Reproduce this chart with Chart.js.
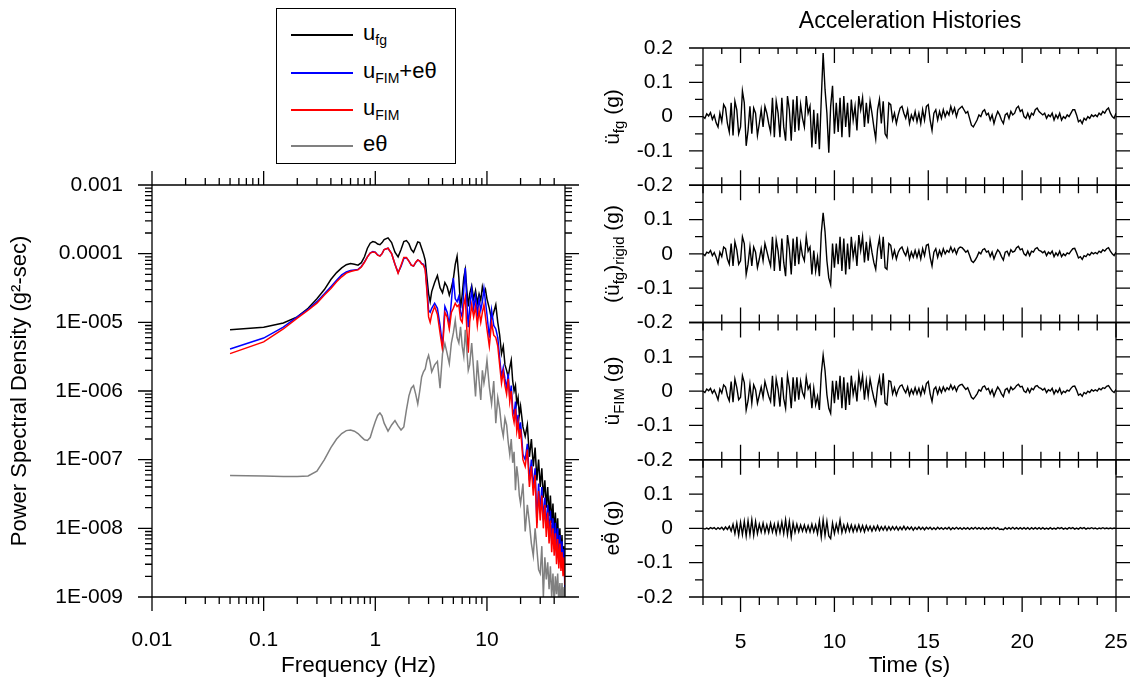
<!DOCTYPE html>
<html lang="en">
  <head>
    <meta charset="UTF-8" />
    <title>PSD and acceleration histories</title>
    <script src="https://cdn.jsdelivr.net/npm/chart.js"></script>
    <style>
      body { margin: 0; background: #fff; font-family: "Liberation Sans", Arial, sans-serif; color: #000; }
      #wrap { position: relative; width: 1139px; height: 682px; overflow: hidden; background: #fff; }
      canvas { position: absolute; top: 0; }
      #legend { position: absolute; left: 276px; top: 8px; width: 178px; height: 154px; border: 1px solid #000; background: #fff; }
      .row { position: absolute; left: 0; width: 178px; height: 26px; }
      .swatch { position: absolute; left: 14px; width: 62px; height: 2px; top: 14px; }
      .lab { position: absolute; left: 86px; top: 0; font-size: 22px; line-height: 26px; white-space: nowrap; }
      sub { font-size: 14px; vertical-align: -5px; line-height: 0; }
      .ytitle { position: absolute; font-size: 21px; white-space: nowrap; transform: translate(-50%, -50%) rotate(-90deg); }
      .ytitle sub { font-size: 15px; }
      .dj { font-family: "DejaVu Sans", sans-serif; font-size: 19px; }
      #accTitle { position: absolute; left: 910px; top: 20px; transform: translate(-50%, -50%); font-size: 23px; white-space: nowrap; }
    </style>
  </head>
  <body>
    <div id="wrap">
      <canvas id="psd" width="600" height="682" style="left:0"></canvas>
      <canvas id="acc0" width="579" height="682" style="left:560px"></canvas>
      <canvas id="acc1" width="579" height="682" style="left:560px"></canvas>
      <canvas id="acc2" width="579" height="682" style="left:560px"></canvas>
      <canvas id="acc3" width="579" height="682" style="left:560px"></canvas>

      <div id="legend">
        <div class="row" style="top:11px"><span class="swatch" style="background:#000"></span><span class="lab">u<sub>fg</sub></span></div>
        <div class="row" style="top:49px"><span class="swatch" style="background:#0000ff"></span><span class="lab">u<sub>FIM</sub>+eθ</span></div>
        <div class="row" style="top:86px"><span class="swatch" style="background:#ff0000"></span><span class="lab">u<sub>FIM</sub></span></div>
        <div class="row" style="top:122px"><span class="swatch" style="background:#808080"></span><span class="lab">eθ</span></div>
      </div>

      <div id="accTitle">Acceleration Histories</div>
      <div class="ytitle" style="left:612px; top:117px">ü<sub>fg</sub> (g)</div>
      <div class="ytitle" style="left:612px; top:254px">(ü<sub>fg</sub>)<sub>rigid</sub> (g)</div>
      <div class="ytitle" style="left:612px; top:391px">ü<sub>FIM</sub> (g)</div>
      <div class="ytitle" style="left:612px; top:528px">e<span class="dj">θ̈</span> (g)</div>
    </div>

    <script>
      // ---------------- DATA : power spectral density ----------------
      const psdFreq = [
        0.05, 0.1, 0.15, 0.2, 0.25, 0.3, 0.35, 0.4, 0.45, 0.5,
        0.55, 0.6, 0.65, 0.7, 0.75, 0.8, 0.85, 0.9, 0.95, 1.0,
        1.05, 1.1, 1.15, 1.2, 1.3, 1.4, 1.5, 1.6, 1.7, 1.8,
        1.9, 2.0, 2.1, 2.2, 2.3, 2.4, 2.5, 2.6, 2.7, 2.8,
        2.9, 3.0, 3.1, 3.2, 3.4, 3.6, 3.8, 4.0, 4.2, 4.4,
        4.6, 4.8, 5.0, 5.2, 5.4, 5.6, 5.8, 6.0, 6.2, 6.4,
        6.6, 6.8, 7.0, 7.3, 7.6, 7.9, 8.2, 8.5, 8.8, 9.1,
        9.4, 9.7, 10, 10.5, 11, 11.5, 12, 12.5, 13, 13.5,
        14, 14.5, 15, 15.5, 16, 16.5, 17, 17.5, 18, 18.5,
        19, 19.5, 20, 21, 22, 23, 24, 25, 26, 27,
        28, 29, 30, 31, 32, 33, 34, 35, 36, 37,
        38, 39, 40, 41, 42, 43, 44, 45, 46, 47,
        48, 49, 50
      ];
      const psdUfg = [
        7.8e-6, 8.5e-6, 9.8e-6, 1.2e-5, 1.6e-5, 2.2e-5, 3.0e-5, 4.2e-5, 5.3e-5, 6.2e-5,
        6.9e-5, 7.2e-5, 7.0e-5, 6.8e-5, 7.4e-5, 9.0e-5, 1.2e-4, 1.42e-4, 1.5e-4, 1.47e-4,
        1.38e-4, 1.35e-4, 1.45e-4, 1.6e-4, 1.7e-4, 1.45e-4, 1.05e-4, 9.0e-5, 1.15e-4, 1.5e-4,
        1.55e-4, 1.4e-4, 1.15e-4, 1.05e-4, 1.25e-4, 1.48e-4, 1.45e-4, 1.2e-4, 1.0e-4, 8.0e-5,
        4.5e-5, 2.6e-5, 2.0e-5, 2.8e-5, 3.8e-5, 4.8e-5, 3.2e-5, 2.7e-5, 3.8e-5, 3.3e-5,
        2.5e-5, 3.2e-5, 4.3e-5, 7.0e-5, 9.2e-5, 4.5e-5, 1.6e-5, 2.5e-5, 4.5e-5, 5.9e-5,
        3.0e-5, 1.7e-5, 2.6e-5, 3.4e-5, 2.2e-5, 2.9e-5, 1.9e-5, 2.6e-5, 2.1e-5, 3.3e-5,
        2.6e-5, 3.0e-5, 2.2e-5, 1.6e-5, 1.1e-5, 1.4e-5, 1.8e-5, 1.0e-5, 6.5e-6, 3.5e-6,
        4.5e-6, 2.4e-6, 2.0e-6, 1.6e-6, 2.2e-6, 2.8e-6, 1.4e-6, 1.0e-6, 1.2e-6, 6.5e-7,
        8.0e-7, 4.5e-7, 6.0e-7, 3.0e-7, 2.2e-7, 3.2e-7, 1.1e-7, 2.0e-7, 8.0e-8, 1.5e-7,
        5.0e-8, 1.0e-7, 4.0e-8, 7.5e-8, 2.8e-8, 5.0e-8, 2.0e-8, 4.0e-8, 1.5e-8, 3.0e-8,
        1.2e-8, 2.3e-8, 8.5e-9, 1.7e-8, 7.0e-9, 1.4e-8, 5.0e-9, 1.0e-8, 4.0e-9, 8.0e-9,
        3.0e-9, 5.5e-9, 2.0e-9
      ];
      const psdUfimTheta = [
        4.1e-6, 5.9e-6, 8.5e-6, 1.2e-5, 1.55e-5, 2.0e-5, 2.6e-5, 3.3e-5, 4.1e-5, 4.9e-5,
        5.4e-5, 5.7e-5, 5.8e-5, 5.9e-5, 6.5e-5, 7.6e-5, 9.0e-5, 1.02e-4, 1.07e-4, 1.05e-4,
        9.6e-5, 9.3e-5, 1.0e-4, 1.15e-4, 1.2e-4, 1.0e-4, 7.0e-5, 5.3e-5, 6.5e-5, 8.5e-5,
        8.7e-5, 7.8e-5, 6.8e-5, 6.6e-5, 7.4e-5, 8.1e-5, 7.8e-5, 7.2e-5, 7.0e-5, 6.0e-5,
        3.2e-5, 1.5e-5, 1.4e-5, 1.6e-5, 1.9e-5, 1.6e-5, 9.0e-6, 4.5e-6, 1.7e-5, 1.4e-5,
        9.0e-6, 2.0e-5, 4.4e-5, 2.2e-5, 2.0e-5, 2.4e-5, 1.4e-5, 1.2e-5, 3.0e-5, 6.2e-5,
        2.0e-5, 8.5e-6, 1.6e-5, 3.0e-5, 1.6e-5, 2.4e-5, 1.3e-5, 2.2e-5, 1.5e-5, 2.0e-5,
        3.1e-5, 2.0e-5, 1.3e-5, 6.0e-6, 1.5e-5, 9.0e-6, 8.0e-6, 6.0e-6, 3.0e-6, 1.6e-6,
        2.2e-6, 1.5e-6, 1.1e-6, 1.8e-6, 8.0e-7, 1.2e-6, 5.5e-7, 4.5e-7, 7.0e-7, 3.2e-7,
        4.5e-7, 2.5e-7, 3.5e-7, 1.2e-7, 1.0e-7, 1.7e-7, 5.0e-8, 1.0e-7, 4.0e-8, 7.5e-8,
        1.2e-8, 4.5e-8, 1.8e-8, 4.0e-8, 1.3e-8, 2.8e-8, 1.0e-8, 2.2e-8, 8.0e-9, 1.8e-8,
        6.5e-9, 1.4e-8, 5.0e-9, 1.2e-8, 4.0e-9, 1.0e-8, 3.5e-9, 8.0e-9, 3.0e-9, 6.5e-9,
        2.5e-9, 5.0e-9, 1.0e-9
      ];
      const psdUfim = [
        3.5e-6, 5.2e-6, 8.0e-6, 1.15e-5, 1.5e-5, 1.9e-5, 2.5e-5, 3.1e-5, 3.9e-5, 4.6e-5,
        5.2e-5, 5.5e-5, 5.7e-5, 5.8e-5, 6.4e-5, 7.5e-5, 9.0e-5, 1.02e-4, 1.06e-4, 1.04e-4,
        9.5e-5, 9.2e-5, 1.0e-4, 1.15e-4, 1.2e-4, 1.0e-4, 7.0e-5, 5.2e-5, 6.8e-5, 8.8e-5,
        8.8e-5, 7.8e-5, 6.8e-5, 6.6e-5, 7.5e-5, 8.1e-5, 7.8e-5, 7.1e-5, 6.8e-5, 5.8e-5,
        2.8e-5, 1.2e-5, 1.0e-5, 1.3e-5, 1.7e-5, 1.3e-5, 7.0e-6, 4.0e-6, 1.4e-5, 1.2e-5,
        8.0e-6, 1.4e-5, 1.6e-5, 1.9e-5, 1.7e-5, 1.8e-5, 1.1e-5, 1.0e-5, 1.8e-5, 2.3e-5,
        8.0e-6, 3.6e-6, 1.0e-5, 1.8e-5, 1.2e-5, 1.7e-5, 9.0e-6, 1.5e-5, 1.0e-5, 1.4e-5,
        1.8e-5, 1.2e-5, 8.0e-6, 4.5e-6, 1.0e-5, 6.5e-6, 6.0e-6, 4.5e-6, 2.4e-6, 1.3e-6,
        1.9e-6, 1.2e-6, 9.0e-7, 1.5e-6, 7.0e-7, 1.0e-6, 4.5e-7, 3.5e-7, 5.5e-7, 2.6e-7,
        3.5e-7, 2.0e-7, 2.8e-7, 1.0e-7, 8.0e-8, 1.4e-7, 4.0e-8, 8.0e-8, 3.0e-8, 6.0e-8,
        1.0e-8, 3.5e-8, 1.3e-8, 3.0e-8, 1.0e-8, 2.2e-8, 7.5e-9, 1.7e-8, 6.0e-9, 1.3e-8,
        4.5e-9, 1.0e-8, 4.0e-9, 8.5e-9, 3.0e-9, 7.0e-9, 2.6e-9, 6.0e-9, 2.4e-9, 4.5e-9,
        2.0e-9, 3.8e-9, 1.5e-9
      ];
      const psdTheta = [
        5.9e-8, 5.8e-8, 5.7e-8, 5.7e-8, 5.8e-8, 6.8e-8, 1.0e-7, 1.5e-7, 2.0e-7, 2.4e-7,
        2.65e-7, 2.7e-7, 2.6e-7, 2.4e-7, 2.15e-7, 1.95e-7, 1.9e-7, 2.1e-7, 2.8e-7, 3.6e-7,
        4.4e-7, 4.8e-7, 4.3e-7, 3.4e-7, 2.6e-7, 3.2e-7, 3.7e-7, 3.1e-7, 2.7e-7, 3.0e-7,
        5.3e-7, 8.5e-7, 1.1e-6, 1.2e-6, 9.0e-7, 6.5e-7, 1.0e-6, 1.6e-6, 1.9e-6, 2.1e-6,
        2.8e-6, 3.3e-6, 2.6e-6, 1.9e-6, 2.4e-6, 2.7e-6, 1.1e-6, 3.5e-6, 4.9e-6, 3.5e-6,
        2.5e-6, 5.0e-6, 7.0e-6, 1.07e-5, 6.0e-6, 5.0e-6, 8.6e-6, 4.5e-6, 3.2e-6, 7.8e-6,
        4.0e-6, 2.0e-6, 2.4e-6, 5.0e-6, 2.0e-6, 8.3e-7, 2.8e-6, 1.4e-6, 7.4e-7, 2.0e-6,
        1.3e-6, 1.8e-6, 2.8e-6, 1.15e-6, 6.5e-7, 1.4e-6, 3.4e-7, 8.0e-7, 5.5e-7, 3.0e-7,
        2.2e-7, 4.0e-7, 3.2e-7, 1.8e-7, 1.2e-7, 2.0e-7, 9.0e-8, 1.3e-7, 3.6e-8, 8.0e-8,
        5.5e-8, 3.0e-8, 2.3e-8, 4.5e-8, 9.0e-9, 2.2e-8, 1.2e-8, 6.0e-9, 4.0e-9, 1.0e-8,
        5.0e-9, 2.5e-9, 2.2e-9, 5.5e-9, 1.0e-9, 3.8e-9, 1.8e-9, 3.2e-9, 1.3e-9, 2.8e-9,
        1.0e-9, 2.2e-9, 8.0e-10, 2.0e-9, 1.1e-9, 2.2e-9, 8.0e-10, 1.6e-9, 7.0e-10, 1.6e-9,
        8.0e-10, 1.4e-9, 7.0e-10
      ];
      const psdXTicks = [0.01, 0.1, 1, 10];
      const psdXLabels = ['0.01', '0.1', '1', '10'];
      const psdYTicks = [1e-9, 1e-8, 1e-7, 1e-6, 1e-5, 1e-4, 1e-3];
      const psdYLabels = ['1E-009', '1E-008', '1E-007', '1E-006', '1E-005', '0.0001', '0.001'];

      // ---------------- DATA : acceleration histories (g), one row per second ----------------
      const tStart = 3;
      const tStep = 0.1;
      const accUfg = [
        0.000, -0.005, 0.008, 0.002, 0.012, -0.008, 0.004, -0.018, -0.030, 0.010,
        -0.015, 0.035, 0.025, -0.020, -0.045, 0.040, -0.055, 0.045, 0.020, -0.050,
        -0.030, 0.075, 0.040, -0.085, -0.040, 0.030, -0.050, 0.025, 0.010, -0.055,
        -0.020, 0.020, -0.030, 0.030, 0.010, -0.020, -0.045, 0.055, -0.060, 0.045,
        0.010, -0.060, 0.055, -0.030, -0.070, 0.060, 0.020, -0.070, 0.050, -0.045,
        0.060, -0.040, 0.035, -0.005, -0.030, 0.060, 0.010, 0.030, -0.090, 0.020,
        -0.080, 0.010, -0.095, 0.050, 0.185, 0.080, 0.010, -0.105, 0.030, 0.090,
        -0.050, 0.040, -0.045, 0.055, -0.060, 0.060, -0.030, 0.040, -0.060, 0.050,
        -0.010, 0.030, -0.040, 0.060, 0.020, 0.055, -0.030, 0.040, -0.020, 0.045,
        0.010, -0.030, -0.065, 0.020, 0.050, -0.020, 0.045, -0.050, -0.060, 0.040,
        0.035, -0.010, 0.010, -0.020, 0.005, 0.025, 0.030, 0.010, -0.005, 0.020,
        -0.020, 0.005, -0.010, 0.015, -0.015, 0.010, -0.020, 0.020, -0.010, 0.030,
        0.035, -0.010, -0.040, 0.010, 0.020, -0.010, 0.015, -0.005, 0.020, 0.000,
        0.015, 0.005, 0.030, 0.010, 0.025, 0.000, 0.020, 0.025, 0.030, 0.020,
        0.010, 0.015, -0.005, -0.025, -0.030, -0.020, -0.010, 0.005, 0.000, 0.015,
        0.020, 0.005, 0.010, -0.010, 0.005, -0.020, 0.000, 0.015, 0.005, -0.010,
        -0.020, 0.005, 0.010, -0.005, 0.015, 0.005, 0.010, 0.025, 0.030, 0.015,
        0.020, 0.000, -0.005, 0.010, -0.005, 0.010, 0.005, 0.020, 0.025, 0.015,
        0.010, 0.005, 0.010, -0.005, 0.005, 0.000, 0.010, -0.010, 0.005, -0.005,
        0.010, -0.010, 0.000, -0.005, 0.005, 0.000, 0.010, 0.020, 0.020, 0.005,
        -0.015, -0.010, -0.020, -0.005, -0.010, 0.000, -0.005, 0.005, 0.000, 0.005,
        0.000, 0.010, 0.005, 0.015, 0.010, 0.020, 0.025, 0.010, 0.000, -0.005,
        0.010
      ];
      const accRigid = [
        0.000, -0.005, 0.005, 0.002, 0.010, -0.005, 0.004, -0.010, -0.028, 0.005,
        -0.008, 0.020, 0.015, -0.015, -0.030, 0.030, -0.035, 0.035, 0.012, -0.030,
        -0.020, 0.050, 0.030, -0.060, -0.030, 0.020, -0.035, 0.020, 0.005, -0.040,
        -0.015, 0.015, -0.020, 0.030, 0.008, -0.015, -0.035, 0.050, -0.050, 0.040,
        0.008, -0.050, 0.045, -0.025, -0.065, 0.055, 0.015, -0.060, 0.045, -0.035,
        0.050, -0.030, 0.030, -0.005, -0.020, 0.050, 0.008, 0.020, -0.060, 0.010,
        -0.050, -0.010, -0.065, 0.060, 0.120, 0.065, -0.020, -0.070, -0.090, 0.030,
        -0.040, 0.030, -0.030, 0.050, -0.050, 0.045, -0.060, 0.030, -0.045, 0.050,
        -0.010, 0.025, -0.035, 0.055, 0.010, 0.050, -0.025, 0.035, -0.020, 0.040,
        0.005, -0.025, -0.045, 0.015, 0.045, -0.015, 0.050, -0.040, -0.045, 0.030,
        0.025, -0.010, 0.010, -0.015, 0.005, 0.015, 0.020, 0.005, -0.005, 0.015,
        -0.015, 0.005, -0.010, 0.010, -0.010, 0.010, -0.015, 0.015, -0.005, 0.025,
        0.028, -0.010, -0.035, 0.005, 0.015, -0.010, 0.010, -0.005, 0.015, 0.000,
        0.010, 0.005, 0.020, 0.005, 0.015, 0.000, 0.015, 0.020, 0.018, 0.012,
        0.005, 0.010, -0.005, -0.020, -0.025, -0.018, -0.008, 0.005, 0.000, 0.012,
        0.015, 0.005, 0.008, -0.008, 0.005, -0.015, 0.000, 0.012, 0.005, -0.008,
        -0.018, 0.005, 0.008, -0.005, 0.012, 0.005, 0.008, 0.018, 0.022, 0.012,
        0.015, 0.000, -0.005, 0.008, -0.005, 0.008, 0.005, 0.015, 0.018, 0.010,
        0.008, 0.003, 0.008, -0.005, 0.005, 0.000, 0.008, -0.008, 0.003, -0.005,
        0.008, -0.008, 0.000, -0.005, 0.003, 0.000, 0.008, 0.015, 0.016, 0.003,
        -0.012, -0.008, -0.016, -0.005, -0.008, 0.000, -0.004, 0.004, 0.000, 0.004,
        0.000, 0.008, 0.004, 0.012, 0.008, 0.015, 0.018, 0.008, 0.000, -0.005,
        0.005
      ];
      const accFim = [
        0.000, -0.004, 0.006, 0.001, 0.008, -0.006, 0.003, -0.010, -0.025, 0.006,
        -0.006, 0.018, 0.012, -0.014, -0.028, 0.028, -0.032, 0.035, 0.010, -0.025,
        -0.018, 0.045, 0.025, -0.055, -0.028, 0.020, -0.035, 0.018, 0.004, -0.035,
        -0.012, 0.012, -0.018, 0.028, 0.006, -0.015, -0.030, 0.045, -0.045, 0.035,
        0.006, -0.045, 0.040, -0.022, -0.050, 0.045, 0.012, -0.050, 0.040, -0.030,
        0.040, -0.025, 0.028, -0.004, -0.018, 0.040, 0.006, 0.018, -0.050, 0.008,
        -0.040, -0.015, -0.055, 0.050, 0.105, 0.060, -0.010, -0.050, -0.065, 0.030,
        -0.035, 0.030, -0.025, 0.045, -0.050, 0.040, -0.055, 0.025, -0.040, 0.045,
        -0.010, 0.020, -0.030, 0.048, 0.010, 0.045, -0.025, 0.030, -0.015, 0.035,
        0.005, -0.020, -0.040, 0.012, 0.040, -0.012, 0.052, -0.035, -0.040, 0.030,
        0.028, -0.008, 0.010, -0.012, 0.005, 0.015, 0.018, 0.005, -0.005, 0.012,
        -0.012, 0.005, -0.008, 0.010, -0.008, 0.008, -0.012, 0.012, -0.005, 0.022,
        0.028, -0.008, -0.030, 0.005, 0.012, -0.008, 0.010, -0.004, 0.012, 0.000,
        0.010, 0.004, 0.018, 0.005, 0.014, 0.000, 0.014, 0.018, 0.020, 0.012,
        0.005, 0.010, -0.004, -0.018, -0.023, -0.016, -0.008, 0.004, 0.000, 0.012,
        0.015, 0.004, 0.008, -0.008, 0.004, -0.015, 0.000, 0.012, 0.004, -0.008,
        -0.016, 0.004, 0.008, -0.004, 0.012, 0.004, 0.008, 0.016, 0.020, 0.012,
        0.014, 0.000, -0.004, 0.008, -0.004, 0.008, 0.004, 0.014, 0.016, 0.010,
        0.008, 0.003, 0.008, -0.004, 0.004, 0.000, 0.008, -0.008, 0.003, -0.004,
        0.008, -0.008, 0.000, -0.004, 0.003, 0.000, 0.008, 0.014, 0.015, 0.003,
        -0.012, -0.008, -0.015, -0.004, -0.008, 0.000, -0.004, 0.004, 0.000, 0.004,
        0.000, 0.008, 0.004, 0.010, 0.008, 0.014, 0.016, 0.008, 0.000, -0.004,
        0.005
      ];
      const accTheta = [
        0.000, -0.002, 0.001, -0.002, 0.002, -0.001, 0.002, -0.003, 0.002, -0.002,
        0.003, -0.004, 0.004, -0.003, 0.006, -0.008, 0.012, -0.015, 0.015, -0.020,
        0.018, -0.018, 0.020, -0.022, 0.022, -0.018, 0.025, -0.020, 0.020, -0.015,
        0.012, -0.010, 0.015, -0.012, 0.010, -0.012, 0.015, -0.010, 0.012, -0.015,
        0.015, -0.012, 0.018, -0.015, 0.025, -0.018, 0.020, -0.025, 0.015, -0.012,
        0.012, -0.010, 0.010, -0.008, 0.010, -0.010, 0.008, -0.010, 0.012, -0.010,
        0.010, -0.015, 0.022, -0.025, 0.025, -0.020, 0.020, -0.022, -0.030, 0.015,
        -0.015, 0.012, -0.010, 0.025, -0.012, 0.010, -0.010, 0.012, -0.008, 0.010,
        -0.010, 0.008, -0.008, 0.010, -0.008, 0.008, -0.010, 0.008, -0.006, 0.006,
        -0.008, 0.006, -0.006, 0.008, -0.006, 0.005, -0.005, 0.006, -0.006, 0.005,
        -0.005, 0.005, -0.004, 0.005, -0.005, 0.004, -0.004, 0.006, -0.004, 0.004,
        -0.003, 0.004, -0.005, 0.003, -0.003, 0.004, -0.003, 0.003, -0.004, 0.003,
        -0.002, 0.003, -0.003, 0.002, -0.003, 0.003, -0.002, 0.002, -0.003, 0.002,
        -0.002, 0.003, -0.004, 0.002, -0.002, 0.003, -0.002, 0.002, -0.003, 0.002,
        -0.002, 0.002, -0.003, 0.002, -0.002, 0.003, -0.002, 0.002, -0.002, 0.002,
        -0.003, 0.002, -0.002, 0.002, -0.002, 0.003, -0.002, 0.002, -0.003, -0.002,
        -0.004, 0.002, -0.002, 0.002, -0.002, 0.003, -0.002, 0.002, -0.002, 0.002,
        -0.002, 0.002, -0.002, 0.002, -0.003, 0.002, -0.002, 0.002, -0.002, 0.002,
        -0.002, 0.002, -0.002, 0.001, -0.002, 0.002, -0.002, 0.001, -0.002, 0.002,
        -0.001, 0.002, -0.002, 0.001, -0.002, 0.002, -0.001, 0.002, -0.002, 0.001,
        -0.002, 0.002, -0.001, 0.002, -0.002, 0.001, -0.001, 0.002, -0.001, 0.001,
        -0.002, 0.001, -0.001, 0.002, -0.001, 0.001, -0.001, 0.001, -0.001, 0.001,
        0.000
      ];
      const timeTicks = [5, 10, 15, 20, 25];
      const accTicks = [-0.2, -0.1, 0, 0.1, 0.2];
      const accMinorTicks = [-0.15, -0.05, 0.05, 0.15];

      // ---------------- SETUP ----------------
      Chart.defaults.font.family = '"Liberation Sans", Arial, sans-serif';
      Chart.defaults.font.size = 21;
      Chart.defaults.color = '#000';

      // box + tick marks (outward / crossing) drawn on the scales
      function framePlugin(marks) {
        return {
          id: 'frame',
          afterDatasetsDraw(chart) {
            const ctx = chart.ctx;
            const a = chart.chartArea;
            ctx.save();
            ctx.strokeStyle = '#000';
            ctx.lineWidth = 1.3;
            ctx.beginPath();
            ctx.rect(a.left, a.top, a.right - a.left, a.bottom - a.top);
            marks.forEach(m => {
              const vertical = m.side === 'left' || m.side === 'right';
              const sc = chart.scales[vertical ? 'y' : 'x'];
              const inn = m.inn || 0;
              m.values.forEach(v => {
                const p = sc.getPixelForValue(v);
                if (m.side === 'left') { ctx.moveTo(a.left - m.out, p); ctx.lineTo(a.left + inn, p); }
                if (m.side === 'right') { ctx.moveTo(a.right - inn, p); ctx.lineTo(a.right + m.out, p); }
                if (m.side === 'bottom') { ctx.moveTo(p, a.bottom - inn); ctx.lineTo(p, a.bottom + m.out); }
                if (m.side === 'top') { ctx.moveTo(p, a.top - m.out); ctx.lineTo(p, a.top + inn); }
              });
            });
            ctx.stroke();
            ctx.restore();
          }
        };
      }

      // ---------------- PSD CHART ----------------
      const psdXMinor = [];
      for (let e = -2; e <= 1; e++) {
        for (let k = 2; k <= 9; k++) {
          const v = k * Math.pow(10, e);
          if (v < 50) psdXMinor.push(v);
        }
      }
      const psdYMinor = [];
      for (let e = -9; e <= -4; e++) {
        for (let k = 2; k <= 9; k++) psdYMinor.push(k * Math.pow(10, e));
      }

      const pts = arr => psdFreq.map((f, i) => ({ x: f, y: arr[i] }));

      new Chart(document.getElementById('psd'), {
        type: 'line',
        data: {
          datasets: [
            { label: 'ufg', data: pts(psdUfg), borderColor: '#000000', order: 4 },
            { label: 'uFIM+eθ', data: pts(psdUfimTheta), borderColor: '#0000ff', order: 3 },
            { label: 'uFIM', data: pts(psdUfim), borderColor: '#ff0000', order: 2 },
            { label: 'eθ', data: pts(psdTheta), borderColor: '#808080', order: 1 }
          ]
        },
        options: {
          responsive: false,
          animation: false,
          events: [],
          layout: { padding: { top: 185, right: 35, bottom: 0, left: 0 } },
          elements: { point: { radius: 0 }, line: { borderWidth: 1.5, tension: 0 } },
          plugins: { legend: { display: false }, tooltip: { enabled: false } },
          scales: {
            x: {
              type: 'logarithmic',
              min: 0.01,
              max: 50,
              grid: { display: false, drawTicks: false },
              border: { display: false },
              afterBuildTicks: s => { s.ticks = psdXTicks.map(v => ({ value: v })); },
              afterFit: s => { s.height = 85; },
              ticks: {
                autoSkip: false,
                maxRotation: 0,
                padding: 31,
                callback: v => psdXLabels[psdXTicks.indexOf(v)]
              },
              title: { display: true, text: 'Frequency (Hz)', font: { size: 22.5 }, padding: { top: 0, bottom: 3 } }
            },
            y: {
              type: 'logarithmic',
              min: 1e-9,
              max: 1e-3,
              grid: { display: false, drawTicks: false },
              border: { display: false },
              afterBuildTicks: s => { s.ticks = psdYTicks.map(v => ({ value: v })); },
              afterFit: s => { s.width = 152; },
              ticks: {
                autoSkip: false,
                padding: 29,
                callback: v => psdYLabels[psdYTicks.indexOf(v)]
              },
              title: { display: true, text: 'Power Spectral Density (g²-sec)', font: { size: 22 }, padding: { top: 7, bottom: 0 } }
            }
          }
        },
        plugins: [framePlugin([
          { side: 'left', values: psdYTicks, out: 14 },
          { side: 'left', values: psdYMinor, out: 7 },
          { side: 'right', values: psdYTicks, out: 14 },
          { side: 'right', values: psdYMinor, out: 7 },
          { side: 'bottom', values: psdXTicks, out: 14 },
          { side: 'bottom', values: psdXMinor, out: 7 },
          { side: 'top', values: psdXTicks, out: 14 },
          { side: 'top', values: psdXMinor, out: 7 }
        ])]
      });

      // ---------------- ACCELERATION PANELS ----------------
      const timeMinor = [];
      for (let t = 3; t <= 24; t++) if (t % 5 !== 0) timeMinor.push(t);

      const panelTop = 48;
      const panelH = 137.25;

      function accChart(id, series, idx) {
        const top = panelTop + idx * panelH;
        const last = idx === 3;
        const yTicks = idx === 0 ? accTicks : accTicks.slice(0, 4);
        const marks = [
          { side: 'left', values: accTicks, out: 14 },
          { side: 'left', values: accMinorTicks, out: 8 },
          { side: 'right', values: accTicks, out: 14 },
          { side: 'right', values: accMinorTicks, out: 7 },
          { side: 'bottom', values: timeTicks, out: 15, inn: last ? 0 : 15 },
          { side: 'bottom', values: timeMinor, out: 8, inn: last ? 0 : 8 }
        ];
        if (idx === 0) {
          marks.push({ side: 'top', values: timeTicks, out: 0, inn: 15 });
          marks.push({ side: 'top', values: timeMinor, out: 0, inn: 6 });
        }
        return new Chart(document.getElementById(id), {
          type: 'line',
          data: {
            datasets: [{
              data: series.map((v, i) => ({ x: tStart + i * tStep, y: v })),
              borderColor: '#000000',
              borderWidth: 1.4
            }]
          },
          options: {
            responsive: false,
            animation: false,
            events: [],
            layout: { padding: { top: top, right: 23, bottom: last ? 0 : 682 - top - panelH, left: 0 } },
            elements: { point: { radius: 0 }, line: { tension: 0 } },
            plugins: { legend: { display: false }, tooltip: { enabled: false } },
            scales: {
              x: {
                type: 'linear',
                min: 3,
                max: 25,
                display: last,
                grid: { display: false, drawTicks: false },
                border: { display: false },
                afterBuildTicks: s => { s.ticks = timeTicks.map(v => ({ value: v })); },
                afterFit: s => {
                  s.height = last ? 85 : 0;
                  s.paddingLeft = 0;
                  s.paddingRight = 0;
                },
                ticks: { autoSkip: false, maxRotation: 0, padding: 33 },
                title: { display: true, text: 'Time (s)', font: { size: 22.5 }, padding: { top: 0, bottom: 3 } }
              },
              y: {
                type: 'linear',
                min: -0.2,
                max: 0.2,
                grid: { display: false, drawTicks: false },
                border: { display: false },
                afterBuildTicks: s => { s.ticks = yTicks.map(v => ({ value: v })); },
                afterFit: s => { s.width = 143; },
                ticks: { autoSkip: false, padding: 30, callback: v => String(v) }
              }
            }
          },
          plugins: [framePlugin(marks)]
        });
      }

      accChart('acc0', accUfg, 0);
      accChart('acc1', accRigid, 1);
      accChart('acc2', accFim, 2);
      accChart('acc3', accTheta, 3);
    </script>
  </body>
</html>
